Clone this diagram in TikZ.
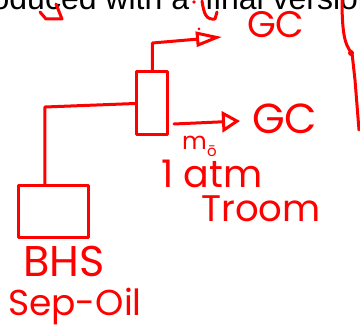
\documentclass[tikz,border=0pt]{standalone}
\usepackage{fontspec}
\setmainfont{Liberation Sans}
\newfontfamily\hand{Poppins}
\usetikzlibrary{arrows.meta}
\definecolor{pen}{RGB}{255,0,0}
\tikzset{
  ink/.style={draw=pen, line width=3pt, line cap=round, line join=round},
  boxnode/.style={ink, inner sep=0pt},
  handtext/.style={text=pen, inner sep=0pt, anchor=base west, font=\hand},
  tipbig/.style={-{Triangle[open, length=26pt, width=15pt]}},
  tipsmall/.style={-{Triangle[open, length=18pt, width=21pt]}}
}
\begin{document}
\begin{tikzpicture}[x=1pt, y=-1pt]
\useasboundingbox (0,0) rectangle (360,328);
\clip (0,0) rectangle (360,328);
\fill[white] (0,0) rectangle (360,328);
% cut-off printed line at the top
\node[anchor=base west, inner sep=0pt, font=\fontsize{32}{38}\selectfont] (toptext) at (-37,10) {produced with a `final version'};
% stray pen marks at the top
\draw[ink] (40,12) -- (46,19) -- (62,19) -- (56,4);
\fill[pen] (194,2) circle (1.8pt);
\draw[ink] (202,1) .. controls (204,14) and (206,20) .. (215,19) -- (217,12);
\fill[pen] (199,29) circle (1.5pt);
\draw[ink] (342,-2) .. controls (342,30) and (344,45) .. (352,53) -- (355,80) -- (359,130);
\fill[pen] (351,53) circle (3pt);
% boxes
\node[boxnode, minimum width=31pt, minimum height=63pt] (upbox) at (152.5,103.5) {};
\node[boxnode, minimum width=70pt, minimum height=52pt] (lowbox) at (53.5,212) {};
% labels
\node[handtext, font=\hand\fontsize{37}{42}\selectfont] (gctop) at (247,38) {GC};
\node[handtext, font=\hand\fontsize{42}{48}\selectfont] (gcmid) at (252,134) {GC};
\node[handtext, font=\hand\fontsize{24}{28}\selectfont] (mdot) at (182,150) {m};
\node[handtext, font=\hand\fontsize{15}{18}\selectfont] (osub) at (207,157) {ō};
\node[handtext, font=\hand\fontsize{38}{44}\selectfont] (atm) at (161,188) {1 atm};
\node[handtext, font=\hand\fontsize{37}{42}\selectfont] (troom) at (201,222) {Troom};
\node[handtext, font=\hand\fontsize{43}{48}\selectfont] (bhs) at (23,277) {BHS};
\node[handtext, font=\hand\fontsize{36}{42}\selectfont] (sepoil) at (8,316) {Sep-Oil};
% connectors
\coordinate (topturn) at (154,43);
\coordinate (topend) at (222,37);
\draw[ink, tipbig] (upbox.north) -- (upbox.north |- topturn) -- (topend);
\coordinate (midstart) at (174,124);
\coordinate (midend) at (240,121);
\draw[ink, tipsmall] (midstart) -- (midend);
\coordinate (lcorner) at (45,107);
\draw[ink] (upbox.west) -- (lcorner) -- (lcorner |- lowbox.north);
\end{tikzpicture}
\end{document}
